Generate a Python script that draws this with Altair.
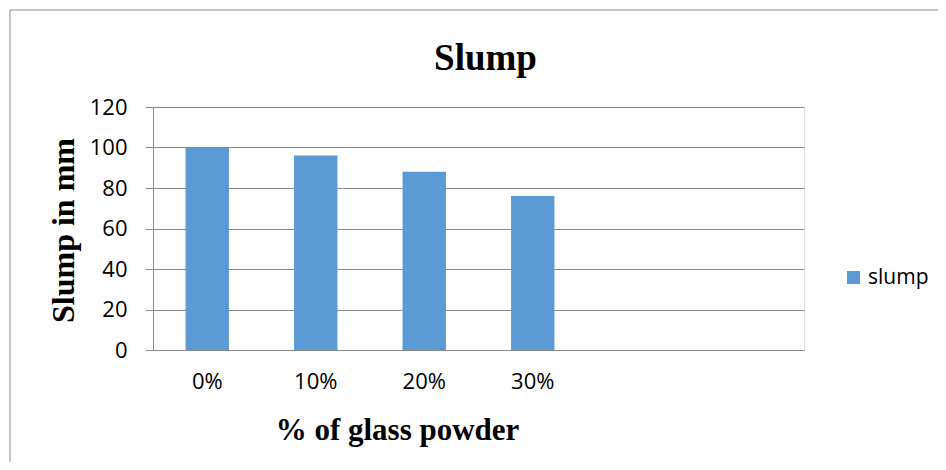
import altair as alt
import pandas as pd

categories = ["0%", "10%", "20%", "30%"]
blank_slots = [" ", "  "]
slump_values = [100, 96, 88, 76]
series_name = "slump"
y_ticks = [0, 20, 40, 60, 80, 100, 120]

df = pd.DataFrame({"cat": categories, "value": slump_values, "series": [series_name] * len(categories)})

grid_col = "#8a8a8a"

bars = alt.Chart(df).mark_bar(color="#5B9BD5").encode(
    x=alt.X(
        "cat:N",
        sort=categories + blank_slots,
        scale=alt.Scale(domain=categories + blank_slots, paddingInner=0.6, paddingOuter=0.3),
        axis=alt.Axis(
            title="% of glass powder",
            titleFont="Liberation Serif",
            titleFontSize=31,
            titleFontWeight="bold",
            titleColor="black",
            titleX=244,
            titleY=80,
            titleAlign="center",
            titleBaseline="middle",
            labelFont="Open Sans",
            labelFontSize=22,
            labelColor="black",
            labelAngle=0,
            labelPadding=21,
            ticks=False,
            tickSize=0,
            domain=True,
            domainColor=grid_col,
            grid=False,
        ),
    ),
    y=alt.Y(
        "value:Q",
        scale=alt.Scale(domain=[0, 120], nice=False),
        axis=alt.Axis(
            title="Slump in mm",
            titleFont="Liberation Serif",
            titleFontSize=32,
            titleFontWeight="bold",
            titleColor="black",
            titleX=-90,
            titleY=123,
            titleAngle=-90,
            titleAlign="center",
            titleBaseline="middle",
            values=y_ticks,
            labelFont="Open Sans",
            labelFontSize=22,
            labelColor="black",
            labelPadding=18,
            tickSize=8,
            tickColor=grid_col,
            domainColor=grid_col,
            grid=True,
            gridColor=grid_col,
            gridWidth=1,
        ),
    ),
    color=alt.Color(
        "series:N",
        scale=alt.Scale(domain=[series_name], range=["#5B9BD5"]),
        legend=alt.Legend(
            title=None,
            orient="none",
            legendX=690,
            legendY=160,
            symbolType="square",
            symbolSize=169,
            symbolStrokeWidth=0,
            labelFont="Open Sans",
            labelFontSize=21,
            labelColor="black",
        ),
    ),
)

border = alt.Chart(pd.DataFrame({"a": [0]})).mark_rect(
    fill=None, stroke="#8c8c8c", strokeWidth=1
).encode(
    x=alt.value(-143), x2=alt.value(790), y=alt.value(-97), y2=alt.value(375)
)

chart = alt.layer(border, bars).properties(
    width=651,
    height=243,
    title=alt.TitleParams(
        "Slump",
        font="Liberation Serif",
        fontSize=37,
        fontWeight="bold",
        color="black",
        anchor="middle",
        frame="group",
        dx=7,
        offset=-68,
    ),
    autosize=alt.AutoSizeParams(type="none"),
    padding={"left": 145, "top": 99, "right": 134, "bottom": 112},
).configure_view(stroke=None).configure(background="white")

chart.save("out.html", embed_options={"renderer": "svg", "actions": False})
